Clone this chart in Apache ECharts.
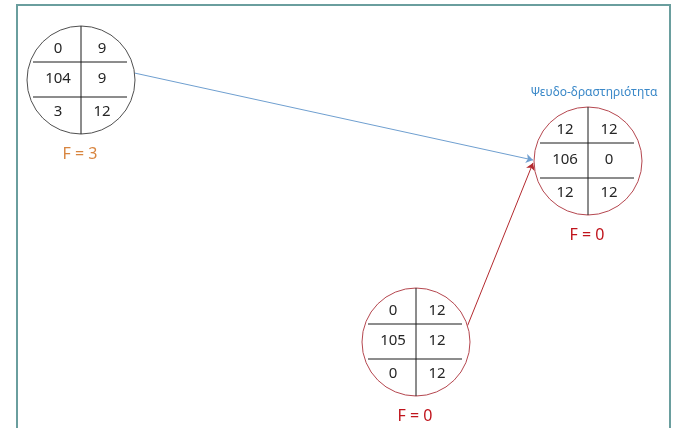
<!DOCTYPE html>
<html>
<head>
<meta charset="utf-8">
<script src="https://cdn.jsdelivr.net/npm/echarts@6/dist/echarts.min.js"></script>
<style>
html,body{margin:0;padding:0;background:#fff;}
#main{width:673px;height:428px;}
</style>
</head>
<body>
<div id="main"></div>
<script>
// Activity-on-node data (node id, earliest start/finish, latest start/finish, float)
var nodeIds = [104, 105, 106];
var topLeft = [0, 0, 12];      // ES
var topRight = [9, 12, 12];    // EF
var midRight = [9, 12, 0];     // duration
var botLeft = [3, 0, 12];      // LS
var botRight = [12, 12, 12];   // LF
var floats = ['F = 3', 'F = 0', 'F = 0'];
var links = [[104, 106], [105, 106]];
var dummyLabel = 'Ψευδο-δραστηριότητα';

// Layout (diagram space)
var nodePos = [[81, 80], [416, 342], [588, 161]];
var nodeR = 54;
var nodeStroke = ['#505050', '#b5474f', '#b5474f'];
var floatColor = ['#d8853f', '#c0141c', '#c0141c'];
var linkAnchors = [[-7.4, 181], [-17.5, 178]];
var linkColor = ['#6f9fd0', '#b42a2f'];

var chart = echarts.init(document.getElementById('main'));

function idx(id){ return nodeIds.indexOf(id); }

var lineData = links.map(function(l, k){
  var a = nodePos[idx(l[0])], b = nodePos[idx(l[1])];
  var t1 = linkAnchors[k][0] * Math.PI / 180, t2 = linkAnchors[k][1] * Math.PI / 180;
  return {
    coords: [[a[0] + nodeR * Math.cos(t1), a[1] + nodeR * Math.sin(t1)],
             [b[0] + (nodeR + 1) * Math.cos(t2), b[1] + (nodeR + 1) * Math.sin(t2)]],
    lineStyle: {color: linkColor[k], width: 1, opacity: 1}
  };
});

var font = 'Noto Sans, Open Sans, sans-serif';

function renderNode(params, api){
  var i = api.value(2);
  var c = api.coord([api.value(0), api.value(1)]);
  var u = api.size([1, 1]);
  var r = nodeR * u[0];
  var ux = u[0], uy = u[1];
  function txt(str, dx, dy, size, color){
    return {type: 'text', style: {text: String(str), x: c[0] + dx * ux, y: c[1] + dy * uy,
      fill: color || '#262626', font: (size || 15) + 'px ' + font, align: 'center', verticalAlign: 'middle'}};
  }
  var sh = {stroke: '#1a1a1a', lineWidth: 1};
  var children = [
    {type: 'circle', shape: {cx: c[0], cy: c[1], r: r}, style: {fill: '#fff', stroke: nodeStroke[i], lineWidth: 1}},
    {type: 'line', shape: {x1: c[0], y1: c[1] - r, x2: c[0], y2: c[1] + r}, style: sh},
    {type: 'line', shape: {x1: c[0] - 48 * ux, y1: c[1] - 18 * uy, x2: c[0] + 46 * ux, y2: c[1] - 18 * uy}, style: sh},
    {type: 'line', shape: {x1: c[0] - 48 * ux, y1: c[1] + 17 * uy, x2: c[0] + 46 * ux, y2: c[1] + 17 * uy}, style: sh},
    txt(topLeft[i], -23, -31),
    txt(topRight[i], 21, -31),
    txt(nodeIds[i], -23, -1),
    txt(midRight[i], 21, -1),
    txt(botLeft[i], -23, 32),
    txt(botRight[i], 21, 32),
    txt(floats[i], -1, 74, 16, floatColor[i])
  ];
  if (nodeIds[i] === 106) {
    children.push(txt(dummyLabel, 6, -68, 12, '#3a88c8'));
  }
  return {type: 'group', children: children};
}

chart.setOption({
  animation: false,
  backgroundColor: '#fff',
  grid: {left: 0, right: 0, top: 0, bottom: 0},
  xAxis: {type: 'value', min: 0, max: 673, show: false},
  yAxis: {type: 'value', min: 0, max: 428, inverse: true, show: false},
  graphic: [{
    type: 'polyline',
    shape: {points: [[17, 430], [17, 5], [670, 5], [670, 430]]},
    style: {stroke: '#6a9e9e', lineWidth: 2, fill: null}
  }],
  series: [
    {
      type: 'lines',
      coordinateSystem: 'cartesian2d',
      symbol: ['none', 'arrow'],
      symbolSize: 7,
      lineStyle: {opacity: 1},
      data: lineData,
      z: 1
    },
    {
      type: 'custom',
      coordinateSystem: 'cartesian2d',
      renderItem: renderNode,
      data: nodePos.map(function(p, i){ return [p[0], p[1], i]; }),
      z: 2
    }
  ]
});
</script>
</body>
</html>
